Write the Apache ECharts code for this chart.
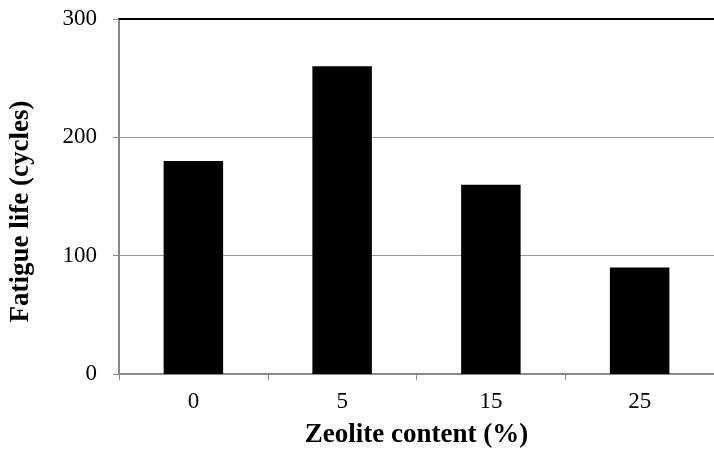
<!DOCTYPE html>
<html>
<head>
<meta charset="utf-8">
<script src="https://cdn.jsdelivr.net/npm/echarts@6/dist/echarts.min.js"></script>
<style>
  html, body { margin: 0; padding: 0; background: #fff; }
  #chart { width: 714px; height: 455px; }
</style>
</head>
<body>
<div id="chart"></div>
<script>
const categories = ['0', '5', '15', '25']
const fatigueLife = [180, 260, 160, 90]
const yTicks = [0, 100, 200, 300]

const fontFamily = '"Liberation Serif", "Times New Roman", serif'

const chart = echarts.init(document.getElementById('chart'))

chart.setOption({
  animation: false,
  grid: { left: 119, right: 0, top: 19, bottom: 81 },
  xAxis: [
    {
      type: 'category',
      data: categories,
      name: 'Zeolite content (%)',
      nameLocation: 'middle',
      nameGap: 48,
      nameTextStyle: { fontFamily, fontSize: 27, fontWeight: 'bold', color: '#000' },
      axisLine: { lineStyle: { color: '#888', width: 2 } },
      axisTick: { show: true, length: 6, lineStyle: { color: '#888' } },
      axisLabel: { fontFamily, fontSize: 23, color: '#000', margin: 16 }
    },
    {
      type: 'category',
      position: 'top',
      data: categories,
      axisLine: { lineStyle: { color: '#000', width: 2 } },
      axisTick: { show: false },
      axisLabel: { show: false }
    }
  ],
  yAxis: {
    type: 'value',
    min: yTicks[0],
    max: yTicks[yTicks.length - 1],
    interval: 100,
    name: 'Fatigue life (cycles)',
    nameLocation: 'middle',
    nameGap: 84,
    nameTextStyle: { fontFamily, fontSize: 27, fontWeight: 'bold', color: '#000', padding: [0, 30, 0, 0] },
    axisLine: { show: true, lineStyle: { color: '#888', width: 2 } },
    axisTick: { show: true, length: 6, lineStyle: { color: '#888' } },
    axisLabel: { fontFamily, fontSize: 23, color: '#000', margin: 22 },
    splitLine: { lineStyle: { color: '#999', width: 1 } }
  },
  series: [
    {
      type: 'bar',
      data: fatigueLife,
      barWidth: '40%',
      itemStyle: { color: '#000' }
    }
  ]
})
</script>
</body>
</html>
